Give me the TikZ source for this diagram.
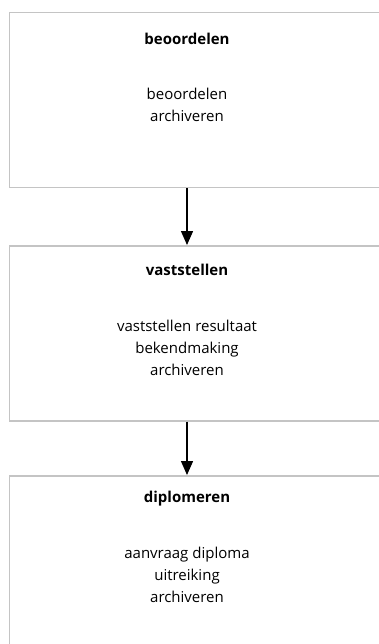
\documentclass[tikz,border=0pt]{standalone}
\usepackage{fontspec}
\setmainfont{Open Sans}
\usetikzlibrary{arrows.meta}
\definecolor{boxgray}{HTML}{C4C4C4}
\tikzset{
  stage/.style={draw=boxgray, line width=1.5pt, minimum width=420pt, minimum height=175pt, anchor=north west, inner sep=0pt},
  title/.style={font=\fontsize{15}{22}\selectfont\bfseries, anchor=base, inner sep=0pt},
  body/.style={font=\fontsize{15}{22}\selectfont, align=center, anchor=base, inner sep=0pt},
  arr/.style={line width=1.4pt, -{Triangle[length=14pt,width=12pt]}}
}
\begin{document}
\begin{tikzpicture}[x=1pt,y=-1pt]
\useasboundingbox (0,0) rectangle (379,644);
\node[stage] (b1) at (8.75,12) {};
\node[stage] (b2) at (8.75,245) {};
\node[stage] (b3) at (8.75,475) {};
\node[title] (t1) at (187,45) {beoordelen};
\node[body] (d1) at (187,122) {beoordelen\\archiveren};
\node[title] (t2) at (187,275) {vaststellen};
\node[body] (d2) at (187,375) {vaststellen resultaat\\bekendmaking\\archiveren};
\node[title] (t3) at (187,502) {diplomeren};
\node[body] (d3) at (187,602) {aanvraag diploma\\uitreiking\\archiveren};
\draw[arr] (t1 |- b1.south) -- (t2 |- b2.north);
\draw[arr] (t2 |- b2.south) -- (t3 |- b3.north);
\end{tikzpicture}
\end{document}
